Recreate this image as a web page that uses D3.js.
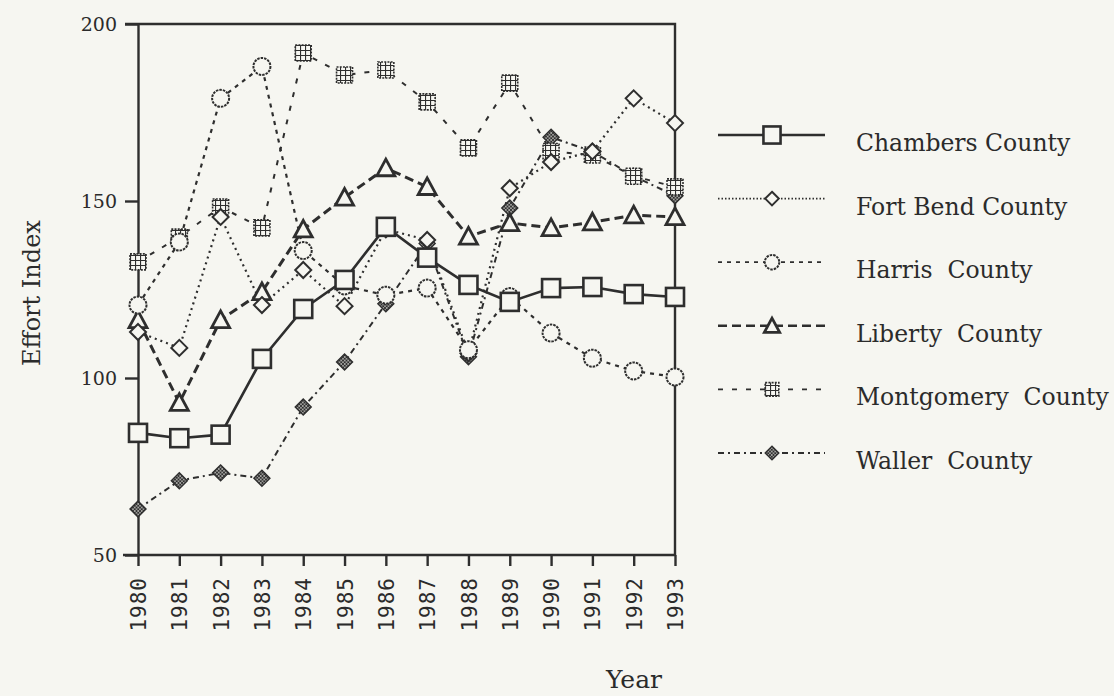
<!DOCTYPE html>
<meta charset="utf-8">
<script src="https://d3js.org/d3.v7.min.js"></script>
<style>
  body { margin: 0; background: #f6f6f1; }
  svg { display: block; }
  text { fill: #2b2b2b; }
</style>
<div id="chart"></div>
<script>

// ---- data ----
var years = [1980, 1981, 1982, 1983, 1984, 1985, 1986, 1987, 1988, 1989, 1990, 1991, 1992, 1993];
var yTicks = [50, 100, 150, 200];

var chambers   = [84.5, 83, 84, 105.4, 119.5, 127.7, 142.7, 134, 126.3, 121.5, 125.4, 125.7, 123.7, 122.9];
var fortBend   = [113, 108.5, 145.5, 120.6, 130.5, 120.3, 142, 139, 107, 153.6, 161, 164, 179, 172];
var harris     = [120.6, 138.4, 179, 188, 136, 126, 123.4, 125.4, 108, 123, 112.7, 105.6, 102, 100.3];
var liberty    = [116.4, 93, 116.4, 124.3, 142, 151, 159.3, 154, 140, 143.8, 142.4, 144, 146, 145.5];
var montgomery = [132.8, 139.8, 148.3, 142.4, 191.8, 185.6, 187, 178, 165, 183.3, 164, 163, 157, 154];
var waller     = [63, 71, 73.2, 71.7, 91.8, 104.5, 121, 138, 106, 148, 168, 164, 157, 151.5];

var seriesNames = ["Chambers County", "Fort Bend County", "Harris  County",
                   "Liberty  County", "Montgomery  County", "Waller  County"];

// styling per series (same order as names)
var styles = [
  {values: chambers,   marker: "square",   dash: null,     width: 2.6},
  {values: fortBend,   marker: "diamond",  dash: "2,4",    width: 2.2},
  {values: harris,     marker: "circle",   dash: "4,5",    width: 2.2},
  {values: liberty,    marker: "triangle", dash: "9,5",    width: 3},
  {values: montgomery, marker: "hsquare",  dash: "5,9",    width: 2},
  {values: waller,     marker: "hdiamond", dash: "6,4,2,4", width: 2}
];

var ink = "#2e2e2e", paper = "#f6f6f1";

var svg = d3.select("#chart").append("svg")
  .attr("width", 1114)
  .attr("height", 696);

// hatch patterns for the filled markers
var defs = svg.append("defs");
var grid = defs.append("pattern").attr("id", "grid")
  .attr("patternUnits", "userSpaceOnUse").attr("width", 5).attr("height", 5);
grid.append("rect").attr("width", 5).attr("height", 5).attr("fill", paper);
grid.append("path").attr("d", "M0,0.5H5M0.5,0V5").attr("stroke", ink).attr("stroke-width", 1.2);

var cross = defs.append("pattern").attr("id", "cross")
  .attr("patternUnits", "userSpaceOnUse").attr("width", 3.5).attr("height", 3.5);
cross.append("rect").attr("width", 3.5).attr("height", 3.5).attr("fill", paper);
cross.append("path").attr("d", "M0,0L3.5,3.5M3.5,0L0,3.5").attr("stroke", ink).attr("stroke-width", 1.1);

// scales
var x = d3.scalePoint().domain(years).range([138, 675]);
var y = d3.scaleLinear().domain([50, 200]).range([555, 24]);

// frame: top and right
svg.append("path")
  .attr("d", "M" + 125 + "," + y(200) + "H" + x(1993) + "V" + y(50))
  .attr("fill", "none").attr("stroke", ink).attr("stroke-width", 2.4);

// y axis
var yAxis = svg.append("g")
  .attr("transform", "translate(" + x(1980) + ",0)")
  .call(d3.axisLeft(y).tickValues(yTicks).tickSize(13).tickSizeOuter(0).tickPadding(8));
yAxis.select(".domain").attr("stroke", ink).attr("stroke-width", 2.4);
yAxis.selectAll(".tick line").attr("stroke", ink).attr("stroke-width", 2.4);
yAxis.selectAll(".tick text")
  .style("font-family", "DejaVu Serif").style("font-size", "19px").attr("fill", "#2b2b2b");

// x axis
var xAxis = svg.append("g")
  .attr("transform", "translate(0," + y(50) + ")")
  .call(d3.axisBottom(x).tickSize(11).tickSizeOuter(0));
xAxis.select(".domain").attr("d", "M123,0H" + x(1993)).attr("stroke", ink).attr("stroke-width", 2.4);
xAxis.selectAll(".tick line").attr("stroke", ink).attr("stroke-width", 2.4);
xAxis.selectAll(".tick text")
  .attr("transform", "rotate(-90)")
  .attr("text-anchor", "end")
  .attr("x", -22).attr("y", 0).attr("dy", "0.36em")
  .style("font-family", "DejaVu Sans Mono").style("font-size", "21px")
  .style("letter-spacing", "1px").attr("fill", "#2b2b2b");

// axis titles
svg.append("text")
  .attr("transform", "translate(40,293) rotate(-90)")
  .attr("text-anchor", "middle")
  .style("font-family", "DejaVu Serif").style("font-size", "24px")
  .text("Effort Index");

svg.append("text")
  .attr("x", 634).attr("y", 688)
  .attr("text-anchor", "middle")
  .style("font-family", "DejaVu Serif").style("font-size", "25px")
  .text("Year");

// marker drawing
function drawMarker(g, type, cx, cy, scale) {
  var s = scale || 1;
  if (type === "square") {
    g.append("rect").attr("x", cx - 9 * s).attr("y", cy - 9 * s)
      .attr("width", 18 * s).attr("height", 18 * s)
      .attr("fill", paper).attr("stroke", ink).attr("stroke-width", 2.6);
  } else if (type === "diamond") {
    var r = 8 * s;
    g.append("path").attr("d", "M" + cx + "," + (cy - r) + "L" + (cx + r) + "," + cy +
        "L" + cx + "," + (cy + r) + "L" + (cx - r) + "," + cy + "Z")
      .attr("fill", paper).attr("stroke", ink).attr("stroke-width", 2);
  } else if (type === "circle") {
    g.append("circle").attr("cx", cx).attr("cy", cy).attr("r", 8.5 * s)
      .attr("fill", paper).attr("stroke", ink).attr("stroke-width", 2)
      .attr("stroke-dasharray", "2.5,1");
  } else if (type === "triangle") {
    var h = 9 * s;
    g.append("path").attr("d", "M" + cx + "," + (cy - h) + "L" + (cx + h) + "," + (cy + h * 0.85) +
        "L" + (cx - h) + "," + (cy + h * 0.85) + "Z")
      .attr("fill", paper).attr("stroke", ink).attr("stroke-width", 2.8)
      .attr("stroke-linejoin", "miter");
  } else if (type === "hsquare") {
    g.append("rect").attr("x", cx - 8 * s).attr("y", cy - 8 * s)
      .attr("width", 16 * s).attr("height", 16 * s)
      .attr("fill", "url(#grid)").attr("stroke", ink).attr("stroke-width", 1.6)
      .attr("stroke-dasharray", "2,1.2");
  } else if (type === "hdiamond") {
    var q = 8 * s;
    g.append("path").attr("d", "M" + cx + "," + (cy - q) + "L" + (cx + q) + "," + cy +
        "L" + cx + "," + (cy + q) + "L" + (cx - q) + "," + cy + "Z")
      .attr("fill", "url(#cross)").attr("stroke", ink).attr("stroke-width", 1.4);
  }
}

// lines
var line = d3.line()
  .x(function(d, i) { return x(years[i]); })
  .y(function(d) { return y(d); });

styles.forEach(function(st) {
  svg.append("path")
    .datum(st.values)
    .attr("fill", "none")
    .attr("stroke", ink)
    .attr("stroke-width", st.width)
    .attr("stroke-dasharray", st.dash)
    .attr("d", line);
});

// markers (drawn in an order that matches overlaps in the reference)
var markerOrder = [5, 4, 3, 1, 2, 0];
markerOrder.forEach(function(k) {
  var st = styles[k];
  var g = svg.append("g");
  st.values.forEach(function(v, i) {
    drawMarker(g, st.marker, x(years[i]), y(v));
  });
});

// legend
var legendY = d3.scalePoint().domain(seriesNames).range([135, 453]);
var legend = svg.append("g");
seriesNames.forEach(function(name, k) {
  var st = styles[k];
  var ly = legendY(name);
  legend.append("path")
    .attr("d", "M718," + ly + "H825")
    .attr("stroke", ink)
    .attr("stroke-width", k === 0 ? 2.6 : (k === 3 ? 2.6 : 1.8))
    .attr("stroke-dasharray", k === 1 ? "1.5,2" : st.dash);
  drawMarker(legend, st.marker, 772, ly, k === 0 ? 0.95 : 0.85);
  legend.append("text")
    .attr("x", 856).attr("y", ly + 16)
    .style("font-family", "DejaVu Serif").style("font-size", "23.5px")
    .style("white-space", "pre")
    .attr("xml:space", "preserve")
    .text(name);
});

</script>
